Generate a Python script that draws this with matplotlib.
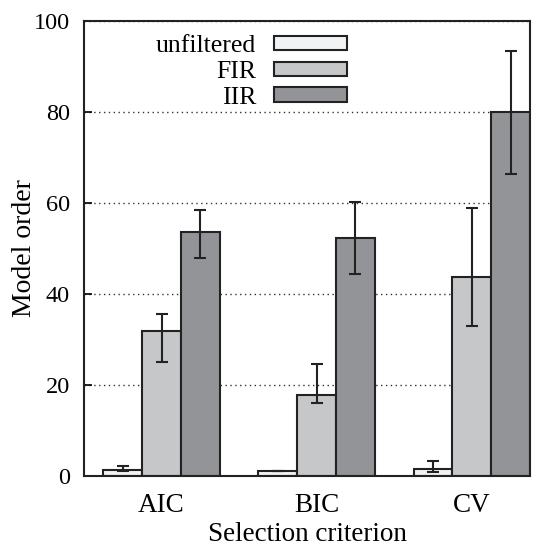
import numpy as np
import matplotlib.pyplot as plt

plt.rcParams['font.family'] = ['Liberation Serif', 'DejaVu Serif']

criteria = ['AIC', 'BIC', 'CV']
series = ['unfiltered', 'FIR', 'IIR']

# mean model order, lower / upper error limits
unfiltered = [1.3, 1.1, 1.6]
unfiltered_lo = [1.0, 1.0, 0.95]
unfiltered_hi = [2.1, 1.2, 3.3]

fir = [31.8, 17.8, 43.7]
fir_lo = [25.0, 16.0, 33.0]
fir_hi = [35.5, 24.7, 58.8]

iir = [53.7, 52.3, 79.9]
iir_lo = [47.9, 44.4, 66.4]
iir_hi = [58.5, 60.2, 93.5]

colors = ['#f1f2f4', '#c6c7c9', '#939497']
edge = '#222222'

fig = plt.figure(figsize=(5.48, 5.47), dpi=100)
ax = fig.add_axes([0.1533, 0.1298, 0.8137, 0.8318])

x = np.arange(len(criteria))
w = 0.25
data = [(unfiltered, unfiltered_lo, unfiltered_hi),
        (fir, fir_lo, fir_hi),
        (iir, iir_lo, iir_hi)]

for i, (vals, lo, hi) in enumerate(data):
    vals = np.array(vals)
    err = np.vstack([vals - np.array(lo), np.array(hi) - vals])
    ax.bar(x + (i - 1) * w, vals, w, color=colors[i], edgecolor=edge,
           linewidth=1.5, label=series[i], zorder=2)
    ax.errorbar(x + (i - 1) * w, vals, yerr=err, fmt='none', ecolor=edge,
                elinewidth=1.5, capsize=4, capthick=1.5, zorder=3)

ax.set_xlim(-0.5, 2.375)
ax.set_ylim(0, 100)
ax.set_yticks([0, 20, 40, 60, 80, 100])
ax.set_xticks(x)
ax.set_xticklabels(criteria)
ax.tick_params(axis='x', length=0, pad=12, labelsize=19.5)
ax.tick_params(axis='y', direction='in', length=6, width=1.2, pad=10,
               labelsize=17.5)
for s in ax.spines.values():
    s.set_linewidth(1.5)
    s.set_color(edge)
ax.yaxis.grid(True, linestyle=(0, (1, 2.5)), color='#333333', linewidth=1.0,
              zorder=0)
ax.set_axisbelow(True)

ax.set_xlabel('Selection criterion', fontsize=19.5, labelpad=3)
ax.set_ylabel('Model order', fontsize=20, labelpad=-2)

ax.legend(loc='upper left', bbox_to_anchor=(0.132, 0.997), frameon=False,
          markerfirst=False, fontsize=18.5, handlelength=2.85,
          handleheight=0.5, handletextpad=0.7, labelspacing=0.15,
          borderaxespad=0.1)

fig.savefig('out.png', dpi=100)
